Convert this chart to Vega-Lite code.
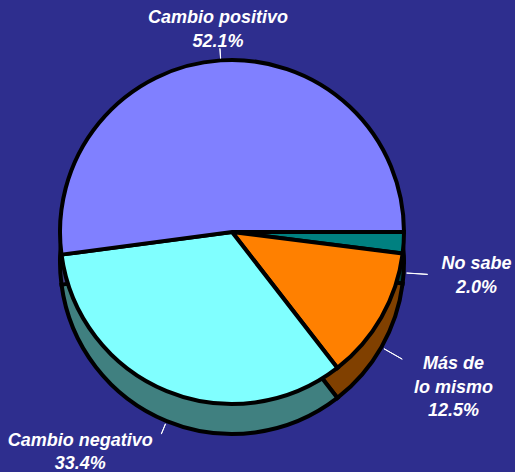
{
  "$schema": "https://vega.github.io/schema/vega-lite/v6.json",
  "width": 515,
  "height": 472,
  "autosize": {"type": "fit", "contains": "padding"},
  "padding": 0,
  "background": "#2E2E8E",
  "config": {"view": {"stroke": null}},
  "data": {
    "values": [
      {"category": "No sabe", "label": "No sabe", "pct": 2.0},
      {"category": "Más de lo mismo", "label": "Más de\nlo mismo", "pct": 12.5},
      {"category": "Cambio negativo", "label": "Cambio negativo", "pct": 33.4},
      {"category": "Cambio positivo", "label": "Cambio positivo", "pct": 52.1}
    ]
  },
  "transform": [
    {"window": [{"op": "sum", "field": "pct", "as": "cum"}], "frame": [null, 0]},
    {"calculate": "datum.cum - datum.pct", "as": "start"},
    {"calculate": "datum.cum - datum.pct / 2", "as": "mid"},
    {"calculate": "datum.mid + 0.01", "as": "mid2"},
    {"calculate": "datum.label + '\\n' + format(datum.pct, '.1f') + '%'", "as": "text"}
  ],
  "layer": [
    {
      "mark": {"type": "arc", "x": 232, "y": 262, "radius": 172, "stroke": "black", "strokeWidth": 4},
      "encoding": {
        "theta": {"field": "start", "type": "quantitative", "stack": null, "scale": {"domain": [0, 100], "range": [1.5708, 7.854]}},
        "theta2": {"field": "cum"},
        "fill": {"field": "category", "type": "nominal", "legend": null,
          "scale": {"domain": ["No sabe", "Más de lo mismo", "Cambio negativo", "Cambio positivo"], "range": ["#004040", "#804000", "#408080", "#404080"]}}
      }
    },
    {
      "mark": {"type": "arc", "x": 232, "y": 232, "radius": 172, "stroke": "black", "strokeWidth": 4},
      "encoding": {
        "theta": {"field": "start", "type": "quantitative", "stack": null, "scale": {"domain": [0, 100], "range": [1.5708, 7.854]}},
        "theta2": {"field": "cum"},
        "color": {"field": "category", "type": "nominal", "legend": null,
          "scale": {"domain": ["No sabe", "Más de lo mismo", "Cambio negativo", "Cambio positivo"], "range": ["#008080", "#FF8000", "#80FFFF", "#8080FF"]}}
      }
    },
    {
      "transform": [{"filter": "datum.category === 'Cambio positivo'"}],
      "mark": {"type": "arc", "x": 232, "y": 232, "radius": 184, "radius2": 174, "stroke": "white", "strokeWidth": 1, "fill": "white"},
      "encoding": {
        "theta": {"field": "mid", "type": "quantitative", "stack": null, "scale": {"domain": [0, 100], "range": [1.5708, 7.854]}},
        "theta2": {"field": "mid2"}
      }
    },
    {
      "transform": [{"filter": "datum.category !== 'Cambio positivo'"}],
      "mark": {"type": "arc", "x": 232, "y": 262,
        "radius": {"expr": "datum.category === 'Cambio negativo' ? 186 : 196"},
        "radius2": 175, "stroke": "white", "strokeWidth": 1, "fill": "white"},
      "encoding": {
        "theta": {"field": "mid", "type": "quantitative", "stack": null, "scale": {"domain": [0, 100], "range": [1.5708, 7.854]}},
        "theta2": {"field": "mid2"}
      }
    },
    {
      "transform": [{"filter": "datum.category === 'Cambio positivo'"}],
      "mark": {"type": "text", "x": 232, "y": 232, "radius": 214, "lineBreak": "\n", "lineHeight": 24,
        "font": "Liberation Sans", "fontSize": 18, "fontWeight": "bold", "fontStyle": "italic",
        "fill": "white", "align": "center", "baseline": "middle"},
      "encoding": {
        "theta": {"field": "mid", "type": "quantitative", "stack": null, "scale": {"domain": [0, 100], "range": [1.5708, 7.854]}},
        "text": {"field": "text"}
      }
    },
    {
      "transform": [{"filter": "datum.category !== 'Cambio positivo'"}],
      "mark": {"type": "text", "x": 232, "y": 262,
        "radius": {"expr": "datum.category === 'No sabe' ? 245 : datum.category === 'Más de lo mismo' ? 255 : 205"},
        "dx": {"expr": "datum.category === 'Cambio negativo' ? -74 : 0"},
        "dy": {"expr": "datum.category === 'No sabe' ? -13 : datum.category === 'Más de lo mismo' ? -24 : -11"},
        "lineBreak": "\n", "lineHeight": 23.5,
        "font": "Liberation Sans", "fontSize": 18, "fontWeight": "bold", "fontStyle": "italic",
        "fill": "white", "align": "center", "baseline": "middle"},
      "encoding": {
        "theta": {"field": "mid", "type": "quantitative", "stack": null, "scale": {"domain": [0, 100], "range": [1.5708, 7.854]}},
        "text": {"field": "text"}
      }
    }
  ]
}
